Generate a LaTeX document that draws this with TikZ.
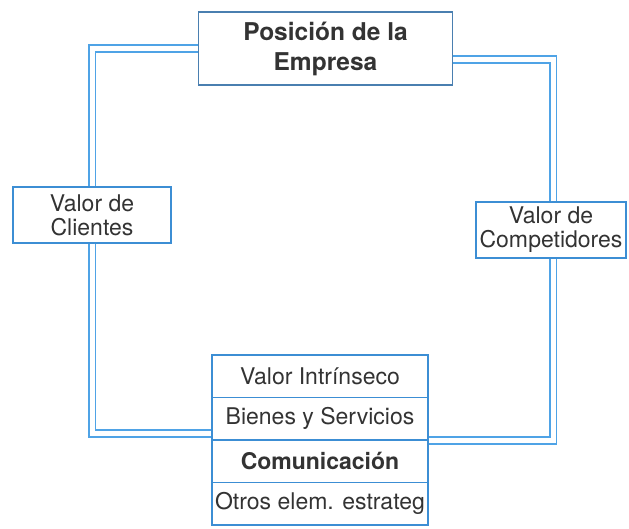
\documentclass[tikz,border=0pt]{standalone}
\usepackage{fontspec}
\setmainfont{TeX Gyre Heros}
\definecolor{boxblue}{HTML}{3C8ED4}
\definecolor{topblue}{HTML}{4A7FB0}
\definecolor{lineblue}{HTML}{4FA3E6}
\definecolor{txt}{HTML}{333333}
\begin{document}
\begin{tikzpicture}[x=1pt,y=-1pt,
  box/.style={draw=boxblue,line width=1.4pt,fill=white,text=txt,align=center,inner sep=0pt,
    font=\fontsize{23}{24}\selectfont},
  rowbox/.style={box,minimum width=216pt,minimum height=42.5pt},
  dbl/.style={draw=lineblue,line width=1.8pt,double=white,double distance=5pt,line join=miter}]
\useasboundingbox (0,0) rectangle (629,528);
\node[box,draw=topblue,minimum width=254pt,minimum height=73pt,
  font=\fontsize{24.5}{30}\selectfont\bfseries] (top) at (325.5,48.5) {Posición de la\\Empresa};
\node[box,minimum width=158pt,minimum height=56pt] (lc) at (92,215) {Valor de\\Clientes};
\node[box,minimum width=150pt,minimum height=56pt] (rc) at (551,230) {Valor de\\Competidores};
\node[rowbox] (r1) at (320,376.25) {Valor Intrínseco};
\node[rowbox] (r2) at (320,418.75) {Bienes y Servicios};
\node[rowbox,font=\fontsize{23}{24}\selectfont\bfseries] (r3) at (320,461.25) {Comunicación};
\node[rowbox] (r4) at (320,503.75) {Otros elem. estrateg};
\draw[dbl] (top.west) -| (lc.north);
\draw[dbl] (lc.south) |- ([yshift=-15pt]r2.west);
\draw[dbl] ([yshift=-22pt]r2.east) -| ([xshift=2pt]rc.south);
\draw[dbl] ([xshift=2pt]rc.north) |- ([yshift=-11pt]top.east);
\end{tikzpicture}
\end{document}
